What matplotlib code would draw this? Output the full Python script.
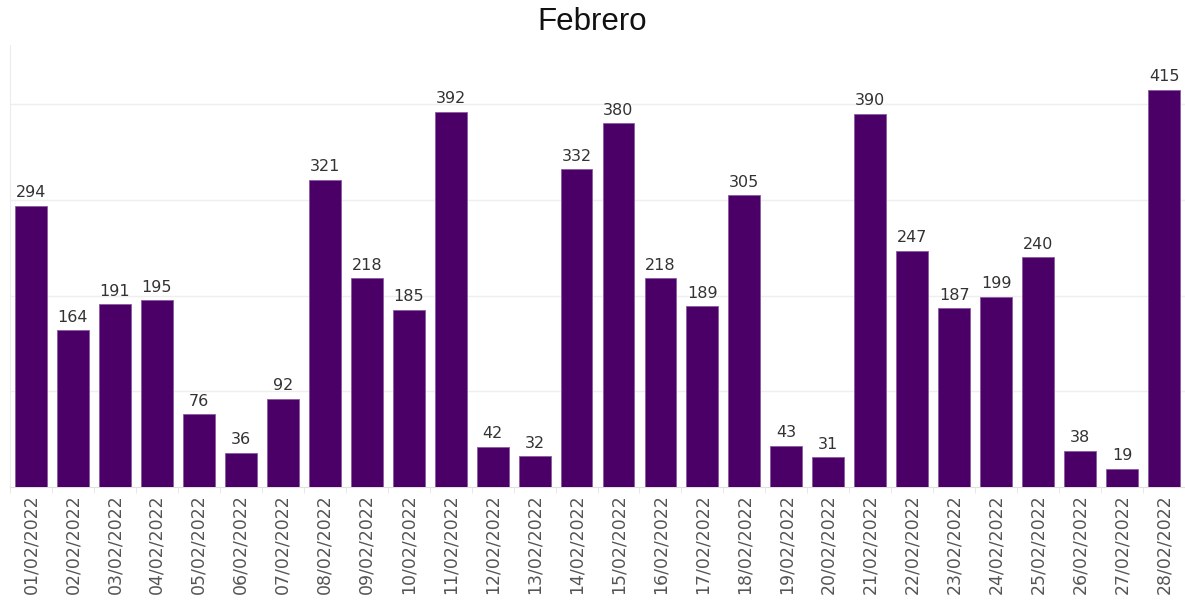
import numpy as np
import matplotlib
matplotlib.use("Agg")
import matplotlib.pyplot as plt

# datos de febrero 2022
fechas = ["%02d/02/2022" % d for d in range(1, 29)]
valores = [294, 164, 191, 195, 76, 36, 92, 321, 218, 185, 392, 42, 32, 332,
           380, 218, 189, 305, 43, 31, 390, 247, 187, 199, 240, 38, 19, 415]

color_barra = "#4b0068"

fig = plt.figure(figsize=(11.85, 6.03), dpi=100)
ax = fig.add_axes([10/1185, (603-487)/603, 1 - 10/1185, (487-45)/603])

x = np.arange(len(valores))
barras = ax.bar(x, valores, width=0.76, color=color_barra,
                edgecolor="#8a5ca0", linewidth=0.6, zorder=3)

for xi, v in zip(x, valores):
    ax.annotate(str(v), (xi, v), xytext=(0, 4), textcoords="offset points",
                ha="center", va="bottom", fontsize=11.5, color="#333333")

ax.set_xlim(-0.475, 27.4)
ax.set_ylim(0, 462)

ax.set_yticks([100, 200, 300, 400])
ax.yaxis.grid(True, color="#efefef", linewidth=1, zorder=0)
ax.tick_params(axis="y", length=0, labelleft=False)

ax.set_xticks(x)
ax.set_xticklabels(fechas, rotation=90, fontsize=12.5, color="#555555")
ax.set_xticks(np.arange(-0.5, 28, 1), minor=True)
ax.tick_params(axis="x", which="major", length=0, pad=5)
ax.tick_params(axis="x", which="minor", length=4, color="#e4e4e4")

for s in ["top", "right"]:
    ax.spines[s].set_visible(False)
ax.spines["left"].set_color("#ececec")
ax.spines["bottom"].set_color("#e0e0e0")

fig.text(0.5, 1 - 22/603, "Febrero", ha="center", va="center",
         fontsize=22.5, family="Liberation Sans", color="#111111")

fig.savefig("out.png", dpi=100)
